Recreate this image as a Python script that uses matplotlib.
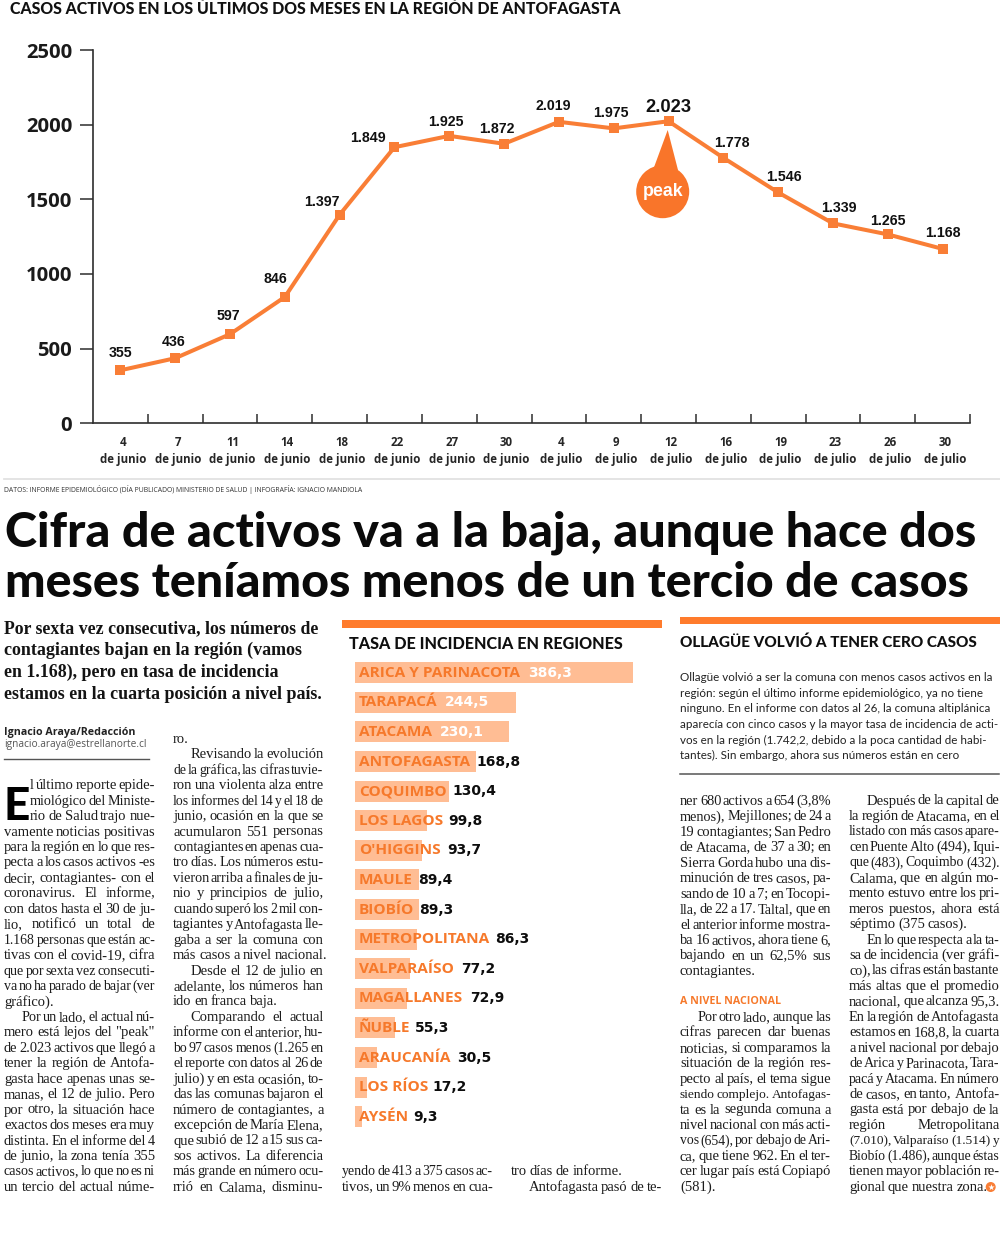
import matplotlib
matplotlib.use("Agg")
import matplotlib.pyplot as plt
from matplotlib.patches import Circle, Polygon, Rectangle
from matplotlib.ticker import FixedLocator, NullFormatter
from matplotlib.transforms import ScaledTranslation

# ---------- data ----------
dates = ["4\nde junio", "7\nde junio", "11\nde junio", "14\nde junio", "18\nde junio",
         "22\nde junio", "27\nde junio", "30\nde junio", "4\nde julio", "9\nde julio",
         "12\nde julio", "16\nde julio", "19\nde julio", "23\nde julio", "26\nde julio",
         "30\nde julio"]
activos = [355, 436, 597, 846, 1397, 1849, 1925, 1872, 2019, 1975, 2023, 1778, 1546, 1339, 1265, 1168]
y_ticks = [0, 500, 1000, 1500, 2000, 2500]

regiones = ["ARICA Y PARINACOTA", "TARAPACÁ", "ATACAMA", "ANTOFAGASTA", "COQUIMBO", "LOS LAGOS",
            "O'HIGGINS", "MAULE", "BIOBÍO", "METROPOLITANA", "VALPARAÍSO", "MAGALLANES", "ÑUBLE",
            "ARAUCANÍA", "LOS RÍOS", "AYSÉN"]
tasa = [386.3, 244.5, 230.1, 168.8, 130.4, 99.8, 93.7, 89.4, 89.3, 86.3, 77.2, 72.9, 55.3, 30.5, 17.2, 9.3]
# bar lengths as drawn in the original (Tarapacá and Atacama are drawn shorter than their labels)
tasa_barras = [386.3, 224, 214, 168.8, 130.4, 99.8, 93.7, 89.4, 89.3, 86.3, 77.2, 72.9, 55.3, 30.5, 17.2, 9.3]

# layout of labels, in pixels
label_dx = [0, -2, -1.5, -9.5, -17.5, -27, -3, -7, -5.7, -3, 0, 9, 6, 6, 0, 0]
label_dy = [-17, -16, -18, -17.7, -13, -9.5, -13.7, -15, -15.8, -15, -14, -15, -15, -15, -13, -16]
value_x = [528, 445, 440, 476.7, 452, 448, 447, 418, 419.5, 495, 461, 469.7, 414.5, 457, 432, 413]

TITLE = "CASOS ACTIVOS EN LOS ÚLTIMOS DOS MESES EN LA REGIÓN DE ANTOFAGASTA"
SOURCE = "DATOS: INFORME EPIDEMIOLÓGICO (DÍA PUBLICADO) MINISTERIO DE SALUD | INFOGRAFÍA: IGNACIO MANDIOLA"
HEAD1 = "Cifra de activos va a la baja, aunque hace dos"
HEAD2 = "meses teníamos menos de un tercio de casos"
DECK = ["Por sexta vez consecutiva, los números de", "contagiantes bajan en la región (vamos",
        "en 1.168), pero en tasa de incidencia", "estamos en la cuarta posición a nivel país."]

# "\t" = indented first line, "|" = last line of a paragraph (not justified)
COL1 = ["\tl último reporte epide-", "\tmiológico del Ministe-", "\trio de Salud trajo nue-",
        "vamente noticias positivas", "para la región en lo que res-", "pecta a los casos activos -es",
        "decir, contagiantes- con el", "coronavirus. El informe,", "con datos hasta el 30 de ju-",
        "lio, notificó un total de", "1.168 personas que están ac-", "tivas con el covid-19, cifra",
        "que por sexta vez consecuti-", "va no ha parado de bajar (ver", "gráfico).|",
        "\tPor un lado, el actual nú-", "mero está lejos del \"peak\"", "de 2.023 activos que llegó a",
        "tener la región de Antofa-", "gasta hace apenas unas se-", "manas, el 12 de julio. Pero",
        "por otro, la situación hace", "exactos dos meses era muy", "distinta. En el informe del 4",
        "de junio, la zona tenía 355", "casos activos, lo que no es ni", "un tercio del actual núme-"]
COL2 = ["ro.|", "\tRevisando la evolución", "de la gráfica, las cifras tuvie-", "ron una violenta alza entre",
        "los informes del 14 y el 18 de", "junio, ocasión en la que se", "acumularon 551 personas",
        "contagiantes en apenas cua-", "tro días. Los números estu-", "vieron arriba a finales de ju-",
        "nio y principios de julio,", "cuando superó los 2 mil con-", "tagiantes y Antofagasta lle-",
        "gaba a ser la comuna con", "más casos a nivel nacional.|", "\tDesde el 12 de julio en",
        "adelante, los números han", "ido en franca baja.|", "\tComparando el actual",
        "informe con el anterior, hu-", "bo 97 casos menos (1.265 en", "el reporte con datos al 26 de",
        "julio) y en esta ocasión, to-", "das las comunas bajaron el", "número de contagiantes, a",
        "excepción de María Elena,", "que subió de 12 a 15 sus ca-", "sos activos. La diferencia",
        "más grande en número ocu-", "rrió en Calama, disminu-"]
COL3 = ["yendo de 413 a 375 casos ac-", "tivos, un 9% menos en cua-"]
COL4 = ["tro días de informe.|", "\tAntofagasta pasó de te-"]
COL5A = ["ner 680 activos a 654 (3,8%", "menos), Mejillones; de 24 a", "19 contagiantes; San Pedro",
         "de Atacama, de 37 a 30; en", "Sierra Gorda hubo una dis-", "minución de tres casos, pa-",
         "sando de 10 a 7; en Tocopi-", "lla, de 22 a 17. Taltal, que en", "el anterior informe mostra-",
         "ba 16 activos, ahora tiene 6,", "bajando en un 62,5% sus", "contagiantes.|"]
COL5B = ["\tPor otro lado, aunque las", "cifras parecen dar buenas", "noticias, si comparamos la",
         "situación de la región res-", "pecto al país, el tema sigue", "siendo complejo. Antofagas-",
         "ta es la segunda comuna a", "nivel nacional con más acti-", "vos (654), por debajo de Ari-",
         "ca, que tiene 962. En el ter-", "cer lugar país está Copiapó", "(581).|"]
COL6 = ["\tDespués de la capital de", "la región de Atacama, en el", "listado con más casos apare-",
        "cen Puente Alto (494), Iqui-", "que (483), Coquimbo (432).", "Calama, que en algún mo-",
        "mento estuvo entre los pri-", "meros puestos, ahora está", "séptimo (375 casos).|",
        "\tEn lo que respecta a la ta-", "sa de incidencia (ver gráfi-", "co), las cifras están bastante",
        "más altas que el promedio", "nacional, que alcanza 95,3.", "En la región de Antofagasta",
        "estamos en 168,8, la cuarta", "a nivel nacional por debajo", "de Arica y Parinacota, Tara-",
        "pacá y Atacama. En número", "de casos, en tanto, Antofa-", "gasta está por debajo de la",
        "región Metropolitana", "(7.010), Valparaíso (1.514) y", "Biobío (1.486), aunque éstas",
        "tienen mayor población re-", "gional que nuestra zona.|"]
BOX = ["Ollagüe volvió a ser la comuna con menos casos activos en la",
       "región: según el último informe epidemiológico, ya no tiene",
       "ninguno. En el informe con datos al 26, la comuna altiplánica",
       "aparecía con cinco casos y la mayor tasa de incidencia de acti-",
       "vos en la región (1.742,2, debido a la poca cantidad de habi-",
       "tantes). Sin embargo, ahora sus números están en cero"]

# ---------- styles ----------
ORANGE = "#F97E36"
BAR = "#FFBD94"
LABEL = "#F6792B"
INK = "#1C1C1C"
HUM = "Open Sans"
W, H = 1000, 1247

fig = plt.figure(figsize=(W / 100, H / 100), dpi=100, facecolor="white")
renderer = fig.canvas.get_renderer()


def rect(l, t, w, h):
    return [l / W, 1 - (t + h) / H, w / W, h / H]


# ---------- line chart ----------
ax = fig.add_axes(rect(93, 50, 877, 373.3))
xs = list(range(len(activos)))
ax.plot(xs, activos, color=ORANGE, lw=2.9, marker="s", ms=6.5, mew=0, solid_joinstyle="miter")
ax.set_xlim(-0.5, 15.5)
ax.set_ylim(0, 2500)
for s in ("top", "right"):
    ax.spines[s].set_visible(False)
for s in ("left", "bottom"):
    ax.spines[s].set_color("#2E2E2E")
    ax.spines[s].set_linewidth(1.2)
ax.set_yticks(y_ticks)
ax.set_yticklabels([str(v) for v in y_ticks], fontsize=14.6, fontweight="bold", family=HUM, color="#1A1A1A")
ax.tick_params(axis="y", length=9.4, width=1.1, pad=5.5, color="#2E2E2E")
ax.set_xticks(xs)
ax.set_xticklabels(dates, fontsize=8.3, fontweight="bold", family=HUM, color="#262626", linespacing=1.36)
ax.tick_params(axis="x", which="major", length=0, pad=9.5)
shift = ScaledTranslation(2.5 / 100, 0, fig.dpi_scale_trans)
for lab in ax.get_xticklabels():
    lab.set_transform(lab.get_transform() + shift)
ax.xaxis.set_minor_locator(FixedLocator([i + 0.5 for i in xs]))
ax.xaxis.set_minor_formatter(NullFormatter())
ax.tick_params(axis="x", which="minor", direction="in", length=6.6, width=1.1, color="#2E2E2E")
for x, v, dx, dy in zip(xs, activos, label_dx, label_dy):
    big = v == max(activos)
    ax.annotate(f"{v:,}".replace(",", "."), (x, v), xytext=(dx * 0.72, -dy * 0.72),
                textcoords="offset points", ha="center", va="center",
                family="Liberation Sans", fontweight="bold", fontsize=13.2 if big else 10.2, color="#111111")

# ---------- bar chart ----------
bx = fig.add_axes(rect(355, 672.7 - 14.8, 277.7, 16 * 29.6))
rows = list(range(len(tasa)))
bx.barh(rows, tasa_barras, height=0.71, color=BAR, linewidth=0)
bx.set_xlim(0, 386.3)
bx.set_ylim(15.5, -0.5)
bx.axis("off")
for i, (name, v, vx) in enumerate(zip(regiones, tasa, value_x)):
    bx.annotate(name, (0, i), xytext=(4 * 0.72, 0), textcoords="offset points", va="center", ha="left",
                family=HUM, fontweight="bold", fontsize=11.1, color=LABEL, annotation_clip=False)
    bx.annotate(f"{v:.1f}".replace(".", ","), (0, i), xytext=((vx - 355) * 0.72, 0), textcoords="offset points",
                va="center", ha="left", family="DejaVu Sans", fontweight="bold", fontsize=10,
                color="white" if v > 200 else "#0D0D0D", annotation_clip=False)

# ---------- page overlay, in pixels ----------
pg = fig.add_axes([0, 0, 1, 1], zorder=5)
pg.set_xlim(0, W)
pg.set_ylim(H, 0)
pg.axis("off")


def fit_size(s, width, **kw):
    t = pg.text(0, 0, s, fontsize=10, **kw)
    w = t.get_window_extent(renderer).width
    t.remove()
    return 10 * width / w


def fitted(x, y, s, width, **kw):
    pg.text(x, y, s, fontsize=fit_size(s, width, **kw), va="center", ha="left", **kw)


def text_w(s, size, **kw):
    t = pg.text(0, 0, s, fontsize=size, **kw)
    w = t.get_window_extent(renderer).width
    t.remove()
    return w


def column(lines, x0, x1, y0, step=15.45, size=10.5, indent=17.5, min_gap=1.7,
           family="Liberation Serif", color=INK):
    for n, raw in enumerate(lines):
        last = raw.endswith("|")
        ind = raw.startswith("\t")
        s = raw.strip("\t|")
        y = y0 + n * step
        left = x0 + (indent if ind else 0)
        width = x1 - left
        kw = dict(family=family, color=color)
        words = s.split(" ")
        fs = size
        total = sum(text_w(w, fs, **kw) for w in words)
        needed = total + min_gap * (len(words) - 1)
        if needed > width:
            fs = fs * (width - min_gap * (len(words) - 1)) / total
        ws = [text_w(w, fs, **kw) for w in words]
        if len(words) == 1:
            pg.text(left, y, s, fontsize=fs, va="center", ha="left", **kw)
            continue
        gap = 2.8 if last else (width - sum(ws)) / (len(words) - 1)
        cx = left
        for w, wd in zip(words, ws):
            pg.text(cx, y, w, fontsize=fs, va="center", ha="left", **kw)
            cx += wd + gap


fitted(10, 9, TITLE, 612, family="Lato", fontweight=900, color="#111111")
pg.plot([4, 1000], [478.5, 478.5], color="#E2E2E2", lw=1.3)
fitted(4, 490, SOURCE, 363, family=HUM, color="#333333")

fitted(5, 533, HEAD1, 969, family="Lato", fontweight=900, color="#0A0A0A")
fitted(5, 583, HEAD2, 961, family="Lato", fontweight=900, color="#0A0A0A")

for y, s, wd in zip([628.3, 650.2, 672.5, 694.7], DECK, [315, 299, 274, 318]):
    fitted(4, y, s, wd, family="Liberation Serif", fontweight="bold", color="#141414")

fitted(4, 732, "Ignacio Araya/Redacción", 130, family=HUM, fontweight="bold", color="#222222")
fitted(4, 745, "ignacio.araya@estrellanorte.cl", 142, family=HUM, color="#555555")
pg.plot([4, 149], [759, 759], color="#555555", lw=1.0)
pg.text(3.5, 820.5, "E", family="Lato", fontweight=900, fontsize=33, color="black", va="baseline", ha="left")

column(COL1[:3], 4, 155, 785.7, indent=26)
column(COL1[3:], 4, 155, 785.7 + 3 * 15.45)
column(COL2, 173, 323.5, 739.3)
column(COL3, 342, 493, 1171.7)
column(COL4, 511, 662, 1171.7)
column(COL5A, 680, 831, 801.5)
pg.text(680, 1001.7, "A NIVEL NACIONAL", family=HUM, fontweight="bold", fontsize=fit_size("A NIVEL NACIONAL", 101, family=HUM, fontweight="bold"), color=LABEL, va="center")
column(COL5B, 680, 831, 1017.3)
column(COL6, 849, 999.5, 801)

# orange rules and headings
pg.add_patch(Rectangle((342, 620), 319.5, 8, color="#FF7B2C", lw=0))
pg.add_patch(Rectangle((679.5, 616.5), 320, 7, color="#FF7B2C", lw=0))
fitted(349, 644, "TASA DE INCIDENCIA EN REGIONES", 272, family="Lato", fontweight=900, color="#0F0F0F")
fitted(680, 642.5, "OLLAGÜE VOLVIÓ A TENER CERO CASOS", 298, family="Lato", fontweight=900, color="#0F0F0F")
box_size = fit_size(BOX[3], 315, family="Lato")
for n, s in enumerate(BOX):
    pg.text(680, 677.7 + n * 15.6, s, family="Lato", fontsize=box_size, color="#222222", va="center")
pg.plot([680, 999], [774, 774], color="#555555", lw=1.1)

# "peak" callout
pg.add_patch(Polygon([(667.7, 130), (653, 170), (678, 170)], closed=True, color="#F9752A", lw=0))
pg.add_patch(Circle((662.7, 191.7), 26.5, color="#F9752A", lw=0))
pg.text(662.7, 191, "peak", family="Liberation Sans", fontweight="bold", fontsize=12.8, color="white", ha="center", va="center")

# end-of-article mark
pg.add_patch(Circle((990.7, 1187), 5, color=ORANGE, lw=0))
pg.scatter([990.7], [1187], marker="*", s=22, color="white", linewidths=0, zorder=6)

fig.savefig("out.png", dpi=100, facecolor="white")
